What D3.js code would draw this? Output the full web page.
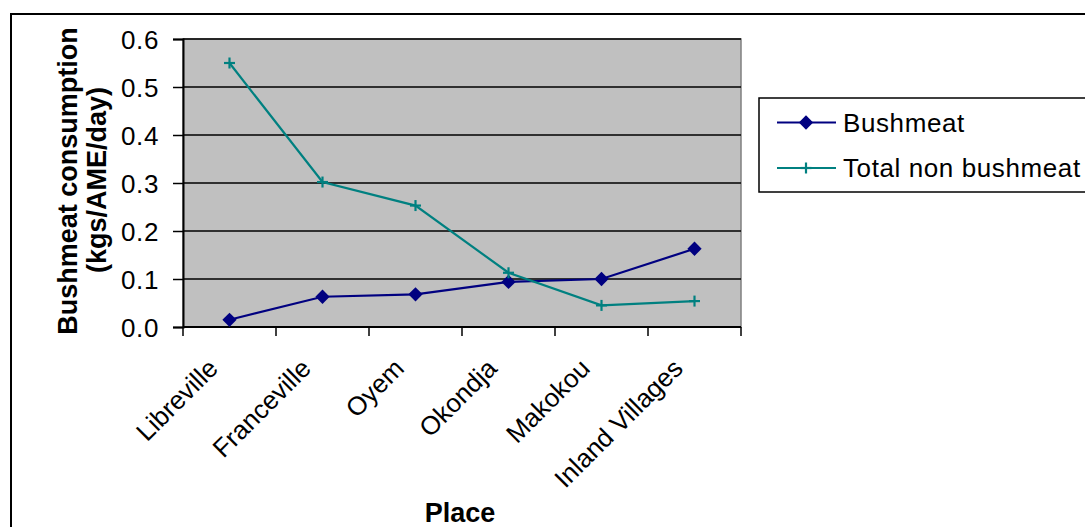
<!DOCTYPE html>
<html><head><meta charset="utf-8">
<script src="https://cdn.jsdelivr.net/npm/d3@7"></script>
<style>body{margin:0;background:#fff}svg{display:block}text{font-family:"Liberation Sans",Arial,sans-serif}</style>
</head><body>
<script>
const categories = ["Libreville","Franceville","Oyem","Okondja","Makokou","Inland Villages"];
const bushmeat = [0.015,0.063,0.068,0.094,0.100,0.163];
const nonBushmeat = [0.550,0.302,0.253,0.113,0.045,0.054];
const yTicks = [0,0.1,0.2,0.3,0.4,0.5,0.6];
const seriesNames = ["Bushmeat","Total non bushmeat"];
const colors = ["#000080","#008080"];

const W=1085,H=527;
const FONT="'Liberation Sans',Arial,sans-serif";
const svg=d3.select("body").append("svg").attr("width",W).attr("height",H);
svg.append("rect").attr("x",11).attr("y",14).attr("width",1200).attr("height",700).attr("fill","#fff").attr("stroke","#000").attr("stroke-width",2);

const L=183,R=741,T=39,B=327;
const x=d3.scaleBand().domain(categories).range([L,R]).padding(0);
const y=d3.scaleLinear().domain([0,0.6]).range([B,T]);

svg.append("rect").attr("x",L).attr("y",T).attr("width",R-L).attr("height",B-T).attr("fill","#C0C0C0").attr("stroke","#808080").attr("stroke-width",1.5);
svg.append("g").selectAll("line").data(yTicks.filter(d=>d>0)).join("line")
  .attr("x1",L).attr("x2",R).attr("y1",d=>y(d)).attr("y2",d=>y(d)).attr("stroke","#000").attr("stroke-width",1.5);

const ya=svg.append("g").attr("transform",`translate(${L},0)`).call(d3.axisLeft(y).tickValues(yTicks).tickFormat(d3.format(".1f")).tickSize(10).tickPadding(14));
ya.select(".domain").attr("stroke","#000").attr("stroke-width",2);
ya.selectAll(".tick line").attr("stroke","#000").attr("stroke-width",1.5);
ya.selectAll("text").attr("font-size",26).attr("fill","#000").attr("font-family",FONT).attr("letter-spacing",0.6).attr("dy","0.36em");

const xa=svg.append("g").attr("transform",`translate(0,${B})`);
xa.append("line").attr("x1",L).attr("x2",R).attr("stroke","#000").attr("stroke-width",2);
const bounds=categories.map(c=>x(c)).concat([x(categories[categories.length-1])+x.bandwidth()]);
xa.selectAll("line.tk").data(bounds).join("line").attr("class","tk").attr("x1",d=>d).attr("x2",d=>d).attr("y1",0).attr("y2",9).attr("stroke","#000").attr("stroke-width",1.5);
svg.append("g").selectAll("text").data(categories).join("text")
  .attr("transform",d=>`translate(${x(d)+x.bandwidth()/2-10},${B+43}) rotate(-45)`)
  .attr("text-anchor","end").attr("font-size",26).text(d=>d);

const line=d3.line().x((d,i)=>x(categories[i])+x.bandwidth()/2).y(d=>y(d));
[bushmeat,nonBushmeat].forEach((s,k)=>{
  svg.append("path").datum(s).attr("d",line).attr("fill","none").attr("stroke",colors[k]).attr("stroke-width",2.2);
});
const dia=d3.symbol().type(d3.symbolDiamond2).size(130);
svg.append("g").selectAll("path").data(bushmeat).join("path")
  .attr("transform",(d,i)=>`translate(${x(categories[i])+x.bandwidth()/2},${y(d)})`).attr("d",dia).attr("fill",colors[0]);
const plus=(g,cx,cy,c)=>{g.append("line").attr("x1",cx-5.5).attr("x2",cx+5.5).attr("y1",cy).attr("y2",cy).attr("stroke",c).attr("stroke-width",2.2);
  g.append("line").attr("x1",cx).attr("x2",cx).attr("y1",cy-5.5).attr("y2",cy+5.5).attr("stroke",c).attr("stroke-width",2.2);};
const pg=svg.append("g");
nonBushmeat.forEach((d,i)=>plus(pg,x(categories[i])+x.bandwidth()/2,y(d),colors[1]));

svg.append("text").attr("transform","translate(77,181) rotate(-90)").attr("text-anchor","middle").attr("font-size",27).attr("font-weight","bold").text("Bushmeat consumption");
svg.append("text").attr("transform","translate(106,180) rotate(-90)").attr("text-anchor","middle").attr("font-size",27).attr("font-weight","bold").text("(kgs/AME/day)");
svg.append("text").attr("x",460).attr("y",522).attr("text-anchor","middle").attr("font-size",27).attr("font-weight","bold").text("Place");

const lg=svg.append("g");
lg.append("rect").attr("x",759).attr("y",98).attr("width",400).attr("height",94).attr("fill","#fff").attr("stroke","#000").attr("stroke-width",1.5);
seriesNames.forEach((n,k)=>{
  const ly=[122.5,168][k];
  lg.append("line").attr("x1",777).attr("x2",836).attr("y1",ly).attr("y2",ly).attr("stroke",colors[k]).attr("stroke-width",2.2);
  if(k===0) lg.append("path").attr("transform",`translate(806,${ly})`).attr("d",dia).attr("fill",colors[0]);
  else plus(lg,806,ly,colors[1]);
  lg.append("text").attr("x",843).attr("y",ly+9).attr("font-size",26).attr("letter-spacing",0.6).text(n);
});
</script>
</body></html>
